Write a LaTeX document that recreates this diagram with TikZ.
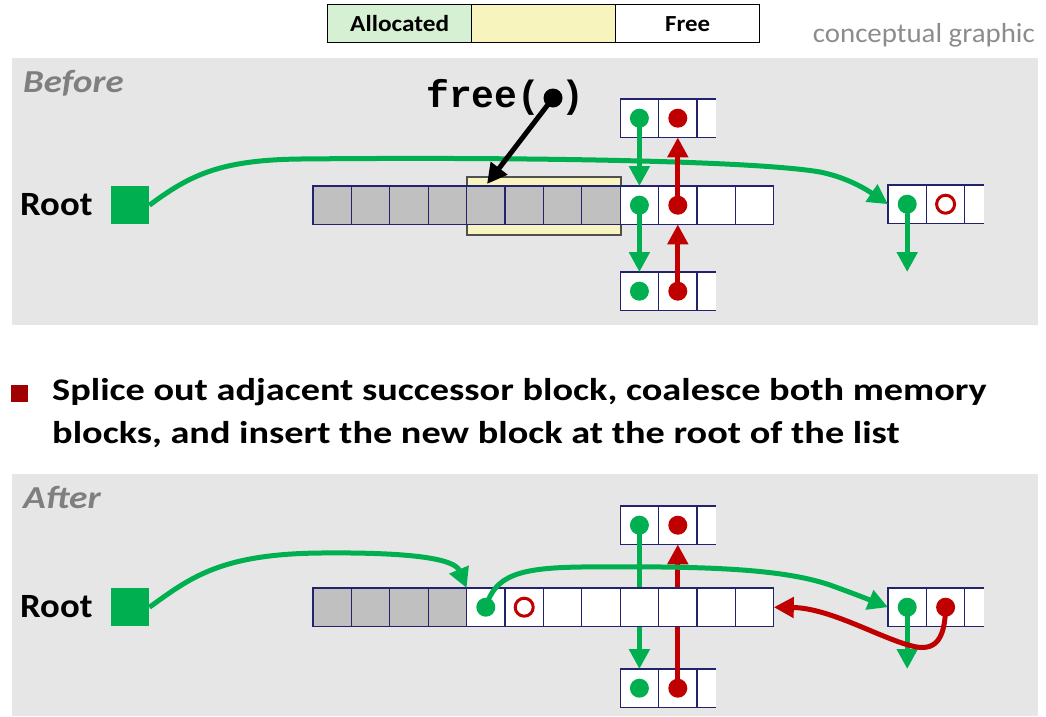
\documentclass[tikz,border=0pt]{standalone}
\usepackage{fontspec}
\usepackage{graphicx}
\setmainfont{Carlito}
\newfontfamily\cmono{Liberation Mono}
\usetikzlibrary{arrows.meta}
\definecolor{gr}{HTML}{00B050}
\definecolor{rd}{HTML}{C00000}
\definecolor{panel}{HTML}{E6E6E6}
\definecolor{cg}{HTML}{C0C0C0}
\definecolor{cb}{HTML}{22226E}
\definecolor{lgreen}{HTML}{D5F0D2}
\definecolor{lyellow}{HTML}{F7F4BE}
\definecolor{yb}{HTML}{505050}
\definecolor{bul}{HTML}{A00000}
\definecolor{captxt}{HTML}{7F7F7F}
\definecolor{contxt}{HTML}{8C8C8C}
\begin{document}
\begin{tikzpicture}[x=1pt,y=-1pt,
  cell/.style={draw=cb, line width=1.3pt, minimum width=38.4pt, minimum height=38.4pt, inner sep=0pt, outer sep=0pt, anchor=north west, fill=white},
  gcell/.style={cell, fill=cg},
  pcell/.style={fill=white, minimum width=19.2pt, minimum height=38.4pt, inner sep=0pt, outer sep=0pt, anchor=north west},
  pline/.style={draw=cb, line width=1.3pt},
  gdot/.style={circle, fill=gr, minimum size=19pt, inner sep=0pt},
  rdot/.style={circle, fill=rd, minimum size=19pt, inner sep=0pt},
  rring/.style={circle, draw=rd, line width=3pt, minimum size=18pt, inner sep=0pt},
  garr/.style={draw=gr, line width=5pt, -{Triangle[width=20pt,length=20pt]}},
  rarr/.style={draw=rd, line width=5pt, -{Triangle[width=20pt,length=20pt]}},
  legbox/.style={draw=black, line width=1.3pt, minimum width=144pt, minimum height=38pt, inner sep=0pt, anchor=north west, font=\bfseries\fontsize{23}{26}\selectfont},
  captionlbl/.style={anchor=base west, inner sep=0pt, text=captxt, font=\bfseries\itshape\fontsize{32}{36}\selectfont},
  rootlbl/.style={anchor=base west, inner sep=0pt, font=\bfseries\fontsize{34}{38}\selectfont},
  rootsq/.style={fill=gr, minimum size=38pt, inner sep=0pt, anchor=north west},
  bultxt/.style={anchor=base west, inner sep=0pt, font=\bfseries\fontsize{31.5}{36}\selectfont}
]
\useasboundingbox (0,0) rectangle (1046,716);

% ---------- legend ----------
\node[legbox, fill=lgreen] (legA) at (327,4) {\scalebox{1.1}[1]{Allocated}};
\node[legbox, fill=lyellow] (legY) at (471,4) {};
\node[legbox, fill=white] (legF) at (615,4) {\scalebox{1.08}[1]{Free}};
\node[anchor=base east, inner sep=0pt, text=contxt, font=\fontsize{27.5}{30}\selectfont] (concept) at (1035,42) {\scalebox{1.05}[1]{conceptual graphic}};

% ---------- BEFORE ----------
\fill[panel] (12,58) rectangle (1038,325);
\node[captionlbl] (before) at (23,92) {\scalebox{1.15}[1]{Before}};
\node[rootlbl] (rootB) at (20,215) {\scalebox{1.08}[1]{Root}};
\node[rootsq] (rsqB) at (111,186) {};

\node[draw=yb, fill=lyellow, line width=1.5pt, minimum width=154pt, minimum height=58pt, inner sep=0pt, anchor=north west] (hl) at (466,176) {};

\foreach \i in {1,...,8} \node[gcell] (bm\i) at ({313+38.4*(\i-1)},186) {};
\foreach \i in {9,...,12} \node[cell] (bm\i) at ({313+38.4*(\i-1)},186) {};

% top block
\node[pcell] (bt3) at (697,99) {};
\draw[pline] (bt3.north west) -- (bt3.north east) (bt3.south west) -- (bt3.south east);
\node[cell] (bt1) at (620.2,99) {};
\node[cell] (bt2) at (658.6,99) {};
% bottom block
\node[pcell] (bu3) at (697,272) {};
\draw[pline] (bu3.north west) -- (bu3.north east) (bu3.south west) -- (bu3.south east);
\node[cell] (bu1) at (620.2,272) {};
\node[cell] (bu2) at (658.6,272) {};
% right block
\node[pcell] (br3) at (964.8,185) {};
\draw[pline] (br3.north west) -- (br3.north east) (br3.south west) -- (br3.south east);
\node[cell] (br1) at (888,185) {};
\node[cell] (br2) at (926.4,185) {};

% big green curve
\draw[garr] (rsqB.east) .. controls (190,175) and (220,160) .. (300,159)
   .. controls (500,157) and (750,160) .. (820,172)
   .. controls (850,178) and (870,192) .. (br1.west);

% dots
\node[gdot] (btg) at (bt1.center) {};
\node[rdot] (btr) at (bt2.center) {};
\node[gdot] (bmg) at (bm9.center) {};
\node[rdot] (bmr) at (bm10.center) {};
\node[gdot] (bug) at (bu1.center) {};
\node[rdot] (bur) at (bu2.center) {};
\node[gdot] (brg) at (br1.center) {};
\node[rring] (brr) at (br2.center) {};
\coordinate (brgEnd) at (907.2,272);

\draw[garr] (btg.center) -- (btg.center |- bm9.north);
\draw[rarr] (bmr.center) -- (bmr.center |- bt2.south);
\draw[garr] (bmg.center) -- (bmg.center |- bu1.north);
\draw[rarr] (bur.center) -- (bur.center |- bm10.south);
\draw[garr] (brg.center) -- (brgEnd);

% free( )
\node[anchor=base west, inner sep=0pt, font=\cmono\bfseries\fontsize{38}{40}\selectfont] (freet) at (426,107) {free(};
\node[anchor=base, inner sep=0pt, font=\cmono\bfseries\fontsize{38}{40}\selectfont] (freep) at (573,107) {)};
\node[circle, fill=black, minimum size=19pt, inner sep=0pt] (fdot) at (553,98) {};
\coordinate (fEnd) at (487,184);
\draw[draw=black, line width=5pt, -{Triangle[width=20pt,length=20pt]}] (fdot.center) -- (fEnd);

% ---------- bullet ----------
\node[fill=bul, minimum size=16.5pt, inner sep=0pt, anchor=north west] (bsq) at (11,385) {};
\node[bultxt] (bl1) at (52,400) {\scalebox{1.215}[1]{Splice out adjacent successor block, coalesce both memory}};
\node[bultxt] (bl2) at (52,443) {\scalebox{1.215}[1]{blocks, and insert the new block at the root of the list}};

% ---------- AFTER ----------
\fill[panel] (12,474) rectangle (1038,716);
\node[captionlbl] (after) at (23,508) {\scalebox{1.17}[1]{After}};
\node[rootlbl] (rootA) at (20,617) {\scalebox{1.08}[1]{Root}};
\node[rootsq] (rsqA) at (111,588) {};

% small blocks
\node[pcell] (at3) at (697,506) {};
\draw[pline] (at3.north west) -- (at3.north east) (at3.south west) -- (at3.south east);
\node[cell] (at1) at (620.2,506) {};
\node[cell] (at2) at (658.6,506) {};
\node[pcell] (au3) at (697,669) {};
\draw[pline] (au3.north west) -- (au3.north east) (au3.south west) -- (au3.south east);
\node[cell] (au1) at (620.2,669) {};
\node[cell] (au2) at (658.6,669) {};
\node[pcell] (ar3) at (964.8,588) {};
\draw[pline] (ar3.north west) -- (ar3.north east) (ar3.south west) -- (ar3.south east);
\node[cell] (ar1) at (888,588) {};
\node[cell] (ar2) at (926.4,588) {};

\node[gdot] (atg) at (at1.center) {};
\node[rdot] (atr) at (at2.center) {};
\node[gdot] (aug) at (au1.center) {};
\node[rdot] (aur) at (au2.center) {};

% vertical arrows (behind row)
\draw[garr] (atg.center) -- (atg.center |- au1.north);
\draw[rarr] (aur.center) -- (aur.center |- at2.south);

% row
\foreach \i in {1,...,4} \node[gcell] (am\i) at ({313+38.4*(\i-1)},588) {};
\foreach \i in {5,...,12} \node[cell] (am\i) at ({313+38.4*(\i-1)},588) {};

\node[gdot] (amg) at (am5.center) {};
\node[rring] (amr) at (am6.center) {};
\node[gdot] (arg) at (ar1.center) {};
\node[rdot] (arr) at (ar2.center) {};
\coordinate (argEnd) at (907.2,669);

\draw[garr] (rsqA.east) .. controls (190,578) and (220,554) .. (320,553)
   .. controls (420,552) and (455,560) .. (am5.north west);
\draw[garr] (amg.center) .. controls (495,575) and (520,568) .. (580,567)
   .. controls (700,566) and (780,568) .. (830,585)
   .. controls (855,594) and (870,600) .. (ar1.west);
\draw[garr] (arg.center) -- (argEnd);
\draw[rarr] (arr.center) .. controls (945,640) and (935,652) .. (912,646)
   .. controls (880,638) and (830,608) .. (am12.east);
\end{tikzpicture}
\end{document}
